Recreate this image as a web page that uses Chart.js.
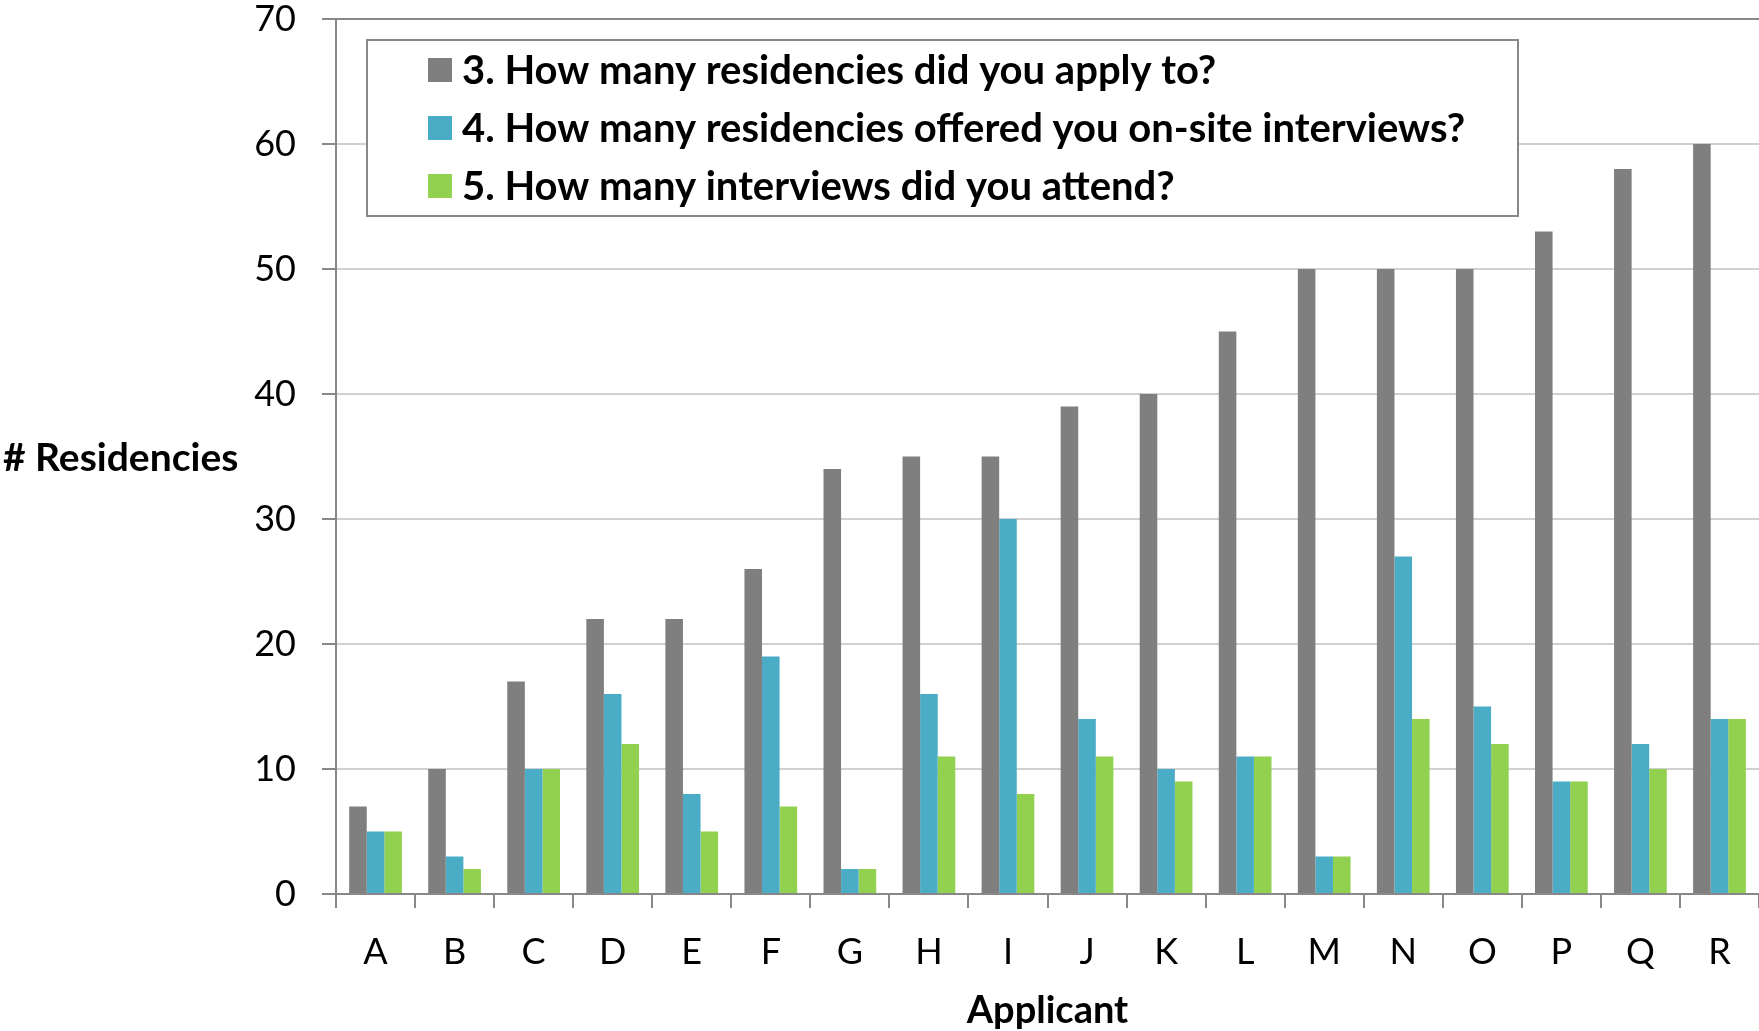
<!DOCTYPE html>
<html>
<head>
<meta charset="utf-8">
<script src="https://cdn.jsdelivr.net/npm/chart.js@4.4.1/dist/chart.umd.min.js"></script>
<style>
  html, body { margin: 0; padding: 0; background: #fff; }
</style>
</head>
<body>
<canvas id="chart" width="1759" height="1031"></canvas>
<script>
// data
const applicants = ['A','B','C','D','E','F','G','H','I','J','K','L','M','N','O','P','Q','R'];
const applied  = [7, 10, 17, 22, 22, 26, 34, 35, 35, 39, 40, 45, 50, 50, 50, 53, 58, 60];
const offered  = [5, 3, 10, 16, 8, 19, 2, 16, 30, 14, 10, 11, 3, 27, 15, 9, 12, 14];
const attended = [5, 2, 10, 12, 5, 7, 2, 11, 8, 11, 9, 11, 3, 14, 12, 9, 10, 14];
const seriesNames = [
  '3. How many residencies did you apply to?',
  '4. How many residencies offered you on-site interviews?',
  '5. How many interviews did you attend?'
];
const seriesColors = ['#7f7f7f', '#4bacc6', '#92d050'];
const yMin = 0, yMax = 70, yStep = 10;

const FONT = 'Lato';

// y title drawn flat + boxed legend inside the plot
const extras = {
  id: 'extras',
  afterDraw(chart) {
    const ctx = chart.ctx;
    const a = chart.chartArea;
    ctx.save();
    ctx.fillStyle = '#000';
    ctx.textAlign = 'left';
    ctx.textBaseline = 'middle';
    ctx.font = 'bold 39px ' + FONT;
    ctx.fillText('# Residencies', 3, (a.top + a.bottom) / 2 + 2);

    const bx = a.left + 31, by = a.top + 21, bw = 1151, bh = 176;
    ctx.fillStyle = '#fff';
    ctx.fillRect(bx, by, bw, bh);
    ctx.strokeStyle = '#888';
    ctx.lineWidth = 2;
    ctx.strokeRect(bx, by, bw, bh);
    ctx.font = 'bold 40px ' + FONT;
    chart.data.datasets.forEach((ds, i) => {
      const cy = by + 30 + i * 58;
      ctx.fillStyle = ds.backgroundColor;
      ctx.fillRect(bx + 61, cy - 12, 24, 24);
      ctx.fillStyle = '#000';
      ctx.fillText(ds.label, bx + 95, cy + 1);
    });
    ctx.restore();
  }
};

const series = [applied, offered, attended];

new Chart(document.getElementById('chart'), {
  type: 'bar',
  data: {
    labels: applicants,
    datasets: series.map((d, i) => ({
      label: seriesNames[i],
      data: d,
      backgroundColor: seriesColors[i],
      borderWidth: 0,
      categoryPercentage: 0.667,
      barPercentage: 1.0
    }))
  },
  options: {
    responsive: false,
    animation: false,
    layout: { padding: { top: 19, right: 0, bottom: 0, left: 0 } },
    plugins: {
      legend: { display: false },
      tooltip: { enabled: false }
    },
    scales: {
      x: {
        grid: { drawOnChartArea: false, drawTicks: true, tickLength: 14, tickColor: '#888', lineWidth: 2, offset: true },
        border: { color: '#888', width: 2 },
        ticks: { color: '#000', font: { family: FONT, size: 36 }, padding: 23, maxRotation: 0, autoSkip: false },
        title: {
          display: true, text: 'Applicant', color: '#000',
          font: { family: FONT, size: 38, weight: 'bold' },
          padding: { top: 0, bottom: -3 }
        },
        afterFit(scale) { scale.height = 137; }
      },
      y: {
        min: yMin, max: yMax,
        ticks: { stepSize: yStep, color: '#000', font: { family: FONT, size: 36, lineHeight: 1 }, padding: 26 },
        grid: {
          color: c => (c.tick && c.tick.value === yMax) ? '#888' : '#d0d0d0',
          lineWidth: 2, tickLength: 14, tickColor: '#888'
        },
        border: { color: '#888', width: 2 },
        afterFit(scale) {
          scale.width = 336;
          scale.paddingTop = 0;
          scale.paddingBottom = 0;
        }
      }
    }
  },
  plugins: [extras]
});
</script>
</body>
</html>
